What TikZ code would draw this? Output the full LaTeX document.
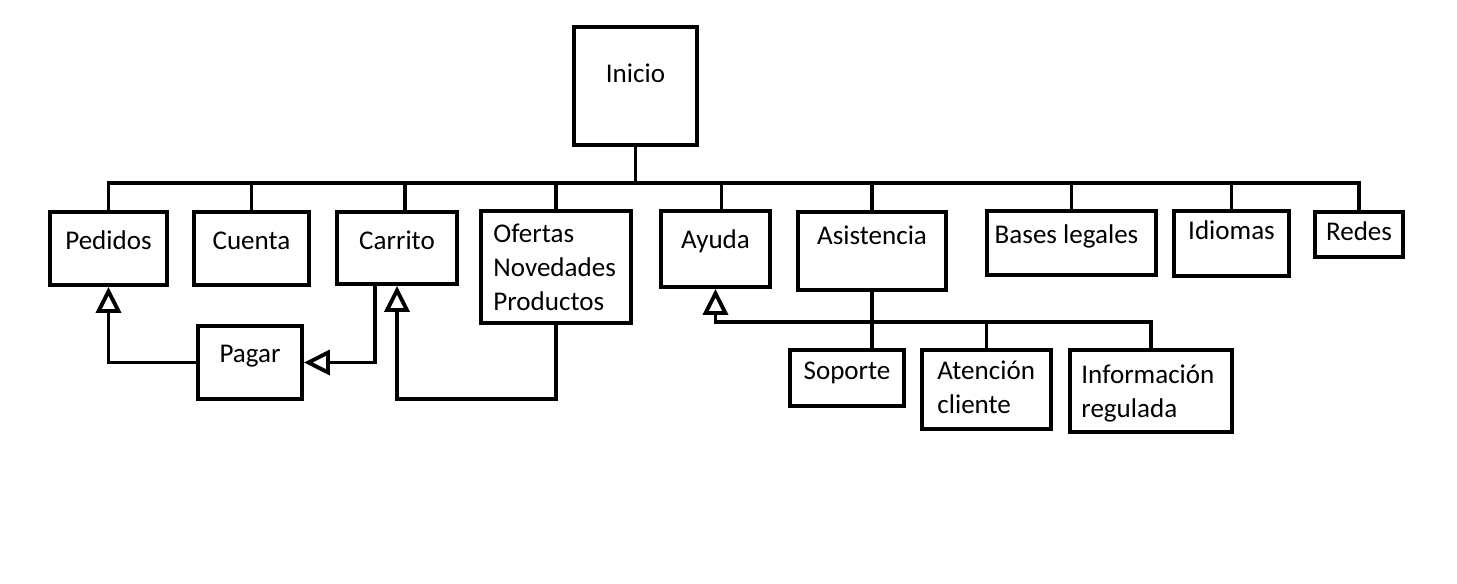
\documentclass[tikz,border=0pt]{standalone}
\usepackage{fontspec}
\setmainfont{Carlito}
\usetikzlibrary{arrows.meta,positioning,calc,fit}

\tikzset{
  box/.style={draw, line width=2.2pt, inner sep=0pt, fit={#1}},
  txt/.style={anchor=base, yshift=-#1, inner sep=0pt},
  ltxt/.style={anchor=base west, yshift=-#1, inner sep=0pt, align=left},
  conn/.style={line width=2.2pt},
  tri/.style={conn, -{Triangle[open, length=0.52cm, width=0.5cm]}}
}

\begin{document}
\begin{tikzpicture}[x=0.02cm, y=-0.02cm, font=\fontsize{15.4pt}{19.3pt}\selectfont]
\useasboundingbox (0,0) rectangle (1457,583);

% top box
\node[box={(574,27) (697,145)}, label={[txt=1.14cm]north:Inicio}] (inicio) {};

% first level
\node[box={(50,212) (167,285)}, label={[txt=0.78cm]north:Pedidos}] (pedidos) {};
\node[box={(194,212) (309,285)}, label={[txt=0.78cm]north:Cuenta}] (cuenta) {};
\node[box={(337,212) (457,284)}, label={[txt=0.78cm]north:Carrito}] (carrito) {};
\node[box={(481,211) (631,323)}, label={[ltxt=2.03cm, xshift=0.28cm]north west:Ofertas\\Novedades\\Productos}] (ofertas) {};
\node[box={(661,211) (770,287)}, label={[txt=0.78cm]north:Ayuda}] (ayuda) {};
\node[box={(798,212) (946,290)}, label={[txt=0.68cm]north:Asistencia}] (asistencia) {};
\node[box={(987,211) (1156,275)}, label={[txt=0.68cm, xshift=-0.1cm]north:Bases legales}] (bases) {};
\node[box={(1174,211) (1289,276)}, label={[txt=0.6cm]north:Idiomas}] (idiomas) {};
\node[box={(1315,212) (1403,257)}, label={[txt=0.6cm]north:Redes}] (redes) {};

% lower boxes
\node[box={(198,326) (302,399)}, label={[txt=0.76cm]north:Pagar}] (pagar) {};
\node[box={(790,350) (904,406)}, label={[txt=0.62cm]north:Soporte}] (soporte) {};
\node[box={(922,350) (1051,429)}, label={[ltxt=1.3cm, xshift=0.34cm]north west:Atención\\cliente}] (atencion) {};
\node[box={(1070,350) (1232,432)}, label={[ltxt=1.38cm, xshift=0.26cm]north west:Información\\regulada}] (informacion) {};

% bus lines
\coordinate (bus) at (642,183);
\coordinate (sub) at (871,322);
\draw[conn] (inicio.south) -- (inicio.south |- bus);
\draw[conn] (pedidos.north) |- (bus) -| (redes.north);
\foreach \n in {cuenta,ofertas,asistencia,bases,idiomas}{
  \draw[conn] (\n.north) -- (\n.north |- bus);
}
\draw[conn] ($(carrito.north)+(8,0)$) -- ++(0,-29);
\draw[conn] ($(ayuda.north)+(6,0)$) -- ++(0,-28);

% asistencia subtree
\draw[conn] (asistencia.south) -- (asistencia.south |- soporte.north);
\draw[conn] (atencion.north) -- (atencion.north |- sub);
\draw[tri] (informacion.north) |- (ayuda.south |- sub) -- (ayuda.south);

% pagar links
\draw[tri] (pagar.west) -| (pedidos.south);
\draw[tri] ($(carrito.south)+(-22,0)$) |- (pagar.east);
\draw[tri] (ofertas.south) -- ++(0,74) -| (carrito.south);
\end{tikzpicture}
\end{document}
